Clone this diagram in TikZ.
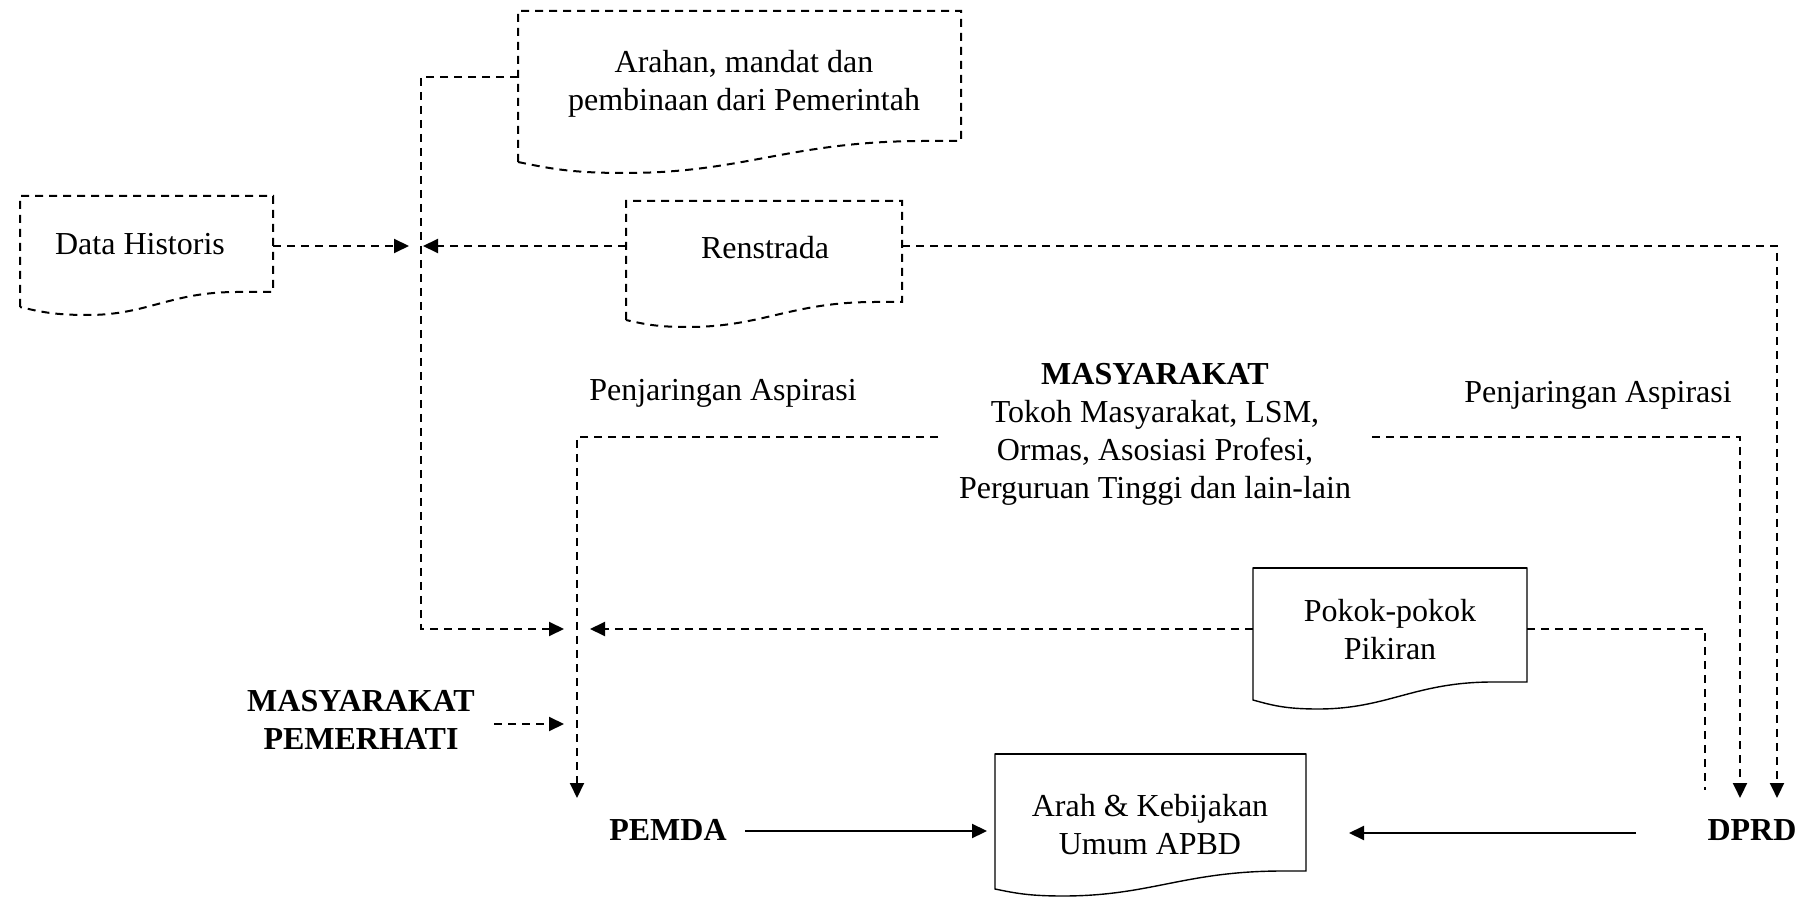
\documentclass[tikz,border=0pt]{standalone}
\usepackage{fontspec}
\setmainfont{Liberation Serif}
\usetikzlibrary{arrows.meta}
\newcommand{\docshape}[9]{%
  \draw[#1] (#2,#5) -- (#2,#4) -- (#3,#4) -- (#3,#9) -- (#8,#9)
    .. controls ({#8-0.45*(#8-#6)},#9) and ({#6+0.4*(#8-#6)},#7) .. (#6,#7)
    .. controls ({#6-0.5*(#6-#2)},#7) and ({#2+0.3*(#6-#2)},{#5+0.6*(#7-#5)}) .. (#2,#5) -- cycle;}
\begin{document}
\begin{tikzpicture}[x=0.5pt,y=-0.5pt,
  every node/.style={font=\fontsize{16}{19}\selectfont, inner sep=0pt, align=center},
  boldtext/.style={font=\fontsize{16}{19}\selectfont\bfseries},
  dashline/.style={line width=1pt, dash pattern=on 4pt off 3pt},
  solidline/.style={line width=1.1pt},
  arrowtip/.style={-{Triangle[length=7.5pt,width=7pt]}},
  docdash/.style={line width=1pt, dash pattern=on 4pt off 3pt},
  docsolid/.style={line width=0.7pt}]
\useasboundingbox (0,0) rectangle (1820,897);

% document shapes
\docshape{docdash}{518}{961}{11}{162}{625}{173}{925}{141}
\docshape{docdash}{20}{273}{196}{307}{88}{315}{237}{292}
\docshape{docdash}{626}{902}{201}{320}{688}{327}{875}{302}
\docshape{docsolid}{1253}{1527}{568}{700}{1318}{709}{1493}{682}
\docshape{docsolid}{995}{1306}{754}{889}{1063}{896}{1283}{871}
\draw[line width=1.1pt] (1253,568) -- (1527,568);
\draw[line width=1.1pt] (995,754) -- (1306,754);

% texts
\node (arahan) at (744,84) {Arahan, mandat dan\\pembinaan dari Pemerintah};
\node (data) at (140,244) {Data Historis};
\node (ren) at (765,248) {Renstrada};
\node (pokok) at (1390,630) {Pokok-pokok\\Pikiran};
\node (arah) at (1150,825) {Arah \& Kebijakan\\Umum APBD};
\node (masy) at (1155,434) {\textbf{MASYARAKAT}\\Tokoh Masyarakat, LSM,\\Ormas, Asosiasi Profesi,\\Perguruan Tinggi dan lain-lain};
\node (penL) at (723,393) {Penjaringan Aspirasi};
\node (penR) at (1598,395) {Penjaringan Aspirasi};
\node[boldtext] (pemerhati) at (361,720) {MASYARAKAT\\PEMERHATI};
\node[boldtext] (pemda) at (668,830) {PEMDA};
\node[boldtext] (dprd) at (1752,830) {DPRD};

% connector coordinates
\coordinate (arW) at (518,77);
\coordinate (arC) at (421,77);
\coordinate (jA) at (421,629);
\coordinate (tA) at (564,629);
\coordinate (dhE) at (273,246);
\coordinate (tB) at (409,246);
\coordinate (renW) at (626,246);
\coordinate (tC) at (423,246);
\coordinate (renE) at (902,246);
\coordinate (renC) at (1777,246);
\coordinate (tD) at (1777,798);
\coordinate (msL) at (938,437);
\coordinate (msLC) at (577,437);
\coordinate (tE) at (577,798);
\coordinate (msR) at (1372,437);
\coordinate (msRC) at (1740,437);
\coordinate (tF) at (1740,798);
\coordinate (pkW) at (1253,629);
\coordinate (tG) at (590,629);
\coordinate (pkE) at (1527,629);
\coordinate (pkC) at (1705,629);
\coordinate (pkEnd) at (1705,790);
\coordinate (pmE) at (494,724);
\coordinate (tH) at (564,724);
\coordinate (pdE) at (745,831);
\coordinate (arahW) at (987,831);
\coordinate (dpW) at (1636,833);
\coordinate (arahE) at (1349,833);

% connectors
\draw[dashline,arrowtip] (arW) -- (arC) -- (jA) -- (tA);
\draw[dashline,arrowtip] (dhE) -- (tB);
\draw[dashline,arrowtip] (renW) -- (tC);
\draw[dashline,arrowtip] (renE) -- (renC) -- (tD);
\draw[dashline,arrowtip] (msL) -- (msLC) -- (tE);
\draw[dashline,arrowtip] (msR) -- (msRC) -- (tF);
\draw[dashline,arrowtip] (pkW) -- (tG);
\draw[dashline] (pkE) -- (pkC) -- (pkEnd);
\draw[dashline,arrowtip] (pmE) -- (tH);
\draw[solidline,arrowtip] (pdE) -- (arahW);
\draw[solidline,arrowtip] (dpW) -- (arahE);
\end{tikzpicture}
\end{document}
